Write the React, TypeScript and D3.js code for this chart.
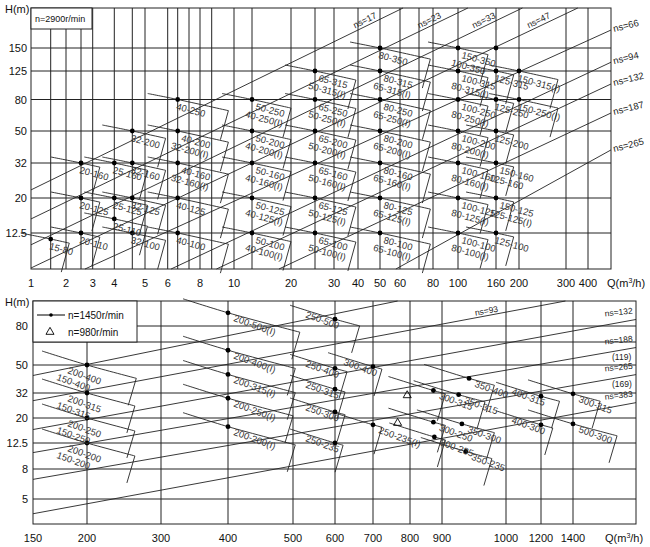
import React from 'react';
import * as d3 from 'd3';

// ================= DATA =================
// Upper chart: n = 2900 r/min
const topQTicks = [1, 2, 3, 4, 5, 6, 8, 10, 20, 30, 40, 50, 60, 80, 100, 160, 200, 300, 400];
const topQGrid = [1.5, 2, 2.5, 3, 4, 4.5, 5, 6, 6.3, 7, 8, 8.5, 10, 12.5, 20, 25, 30, 40, 50, 60, 70, 80, 100, 160, 200, 300, 400];
const topHTicks = [12.5, 20, 32, 50, 80, 125, 150];

type Pump = { labels: string[]; q: number; h: number; qMax: number };

const topPumps: Pump[] = [
  { labels: ['15-80'], q: 1.5, h: 11.6, qMax: 2.1 },
  { labels: ['20-160'], q: 2.5, h: 32, qMax: 3.3 },
  { labels: ['20-125'], q: 2.5, h: 20, qMax: 3.3 },
  { labels: ['20-110'], q: 2.5, h: 12.5, qMax: 3.3 },
  { labels: ['25-160'], q: 4, h: 32, qMax: 5.1 },
  { labels: ['25-125'], q: 4, h: 20, qMax: 5.1 },
  { labels: ['25-110'], q: 4, h: 15.1, qMax: 5.1 },
  { labels: ['32-200'], q: 4.5, h: 50, qMax: 5.9 },
  { labels: ['32-160'], q: 4.5, h: 32, qMax: 5.9 },
  { labels: ['32-125'], q: 4.5, h: 20, qMax: 5.9 },
  { labels: ['32-100'], q: 4.5, h: 12.5, qMax: 5.9 },
  { labels: ['40-250'], q: 6.3, h: 80, qMax: 9.6 },
  { labels: ['40-200', '32-200(I)'], q: 6.3, h: 50, qMax: 9.6 },
  { labels: ['40-160', '32-160(I)'], q: 6.3, h: 32, qMax: 9.6 },
  { labels: ['40-125'], q: 6.3, h: 20, qMax: 9.6 },
  { labels: ['40-100'], q: 6.3, h: 12.5, qMax: 9.6 },
  { labels: ['50-250', '40-250(I)'], q: 12.5, h: 80, qMax: 20 },
  { labels: ['50-200', '40-200(I)'], q: 12.5, h: 50, qMax: 20 },
  { labels: ['50-160', '40-160(I)'], q: 12.5, h: 32, qMax: 20 },
  { labels: ['50-125', '40-125(I)'], q: 12.5, h: 20, qMax: 20 },
  { labels: ['50-100', '40-100(I)'], q: 12.5, h: 12.5, qMax: 20 },
  { labels: ['65-315', '50-315(I)'], q: 25, h: 125, qMax: 39 },
  { labels: ['65-250', '50-250(I)'], q: 25, h: 80, qMax: 39 },
  { labels: ['65-200', '50-200(I)'], q: 25, h: 50, qMax: 39 },
  { labels: ['65-160', '50-160(I)'], q: 25, h: 32, qMax: 39 },
  { labels: ['65-125', '50-125(I)'], q: 25, h: 20, qMax: 39 },
  { labels: ['65-100', '50-100(I)'], q: 25, h: 12.5, qMax: 39 },
  { labels: ['80-350'], q: 50, h: 150, qMax: 78 },
  { labels: ['80-315', '65-315(I)'], q: 50, h: 125, qMax: 78 },
  { labels: ['80-250', '65-250(I)'], q: 50, h: 80, qMax: 78 },
  { labels: ['80-200', '65-200(I)'], q: 50, h: 50, qMax: 78 },
  { labels: ['80-160', '65-160(I)'], q: 50, h: 32, qMax: 78 },
  { labels: ['80-125', '65-125(I)'], q: 50, h: 20, qMax: 78 },
  { labels: ['80-100', '65-100(I)'], q: 50, h: 12.5, qMax: 78 },
  { labels: ['150-350', '100-350'], q: 100, h: 150, qMax: 145 },
  { labels: ['100-315', '80-315(I)'], q: 100, h: 125, qMax: 145 },
  { labels: ['100-250', '80-250(I)'], q: 100, h: 80, qMax: 145 },
  { labels: ['100-200', '80-200(I)'], q: 100, h: 50, qMax: 145 },
  { labels: ['100-160', '80-160(I)'], q: 100, h: 32, qMax: 145 },
  { labels: ['100-125', '80-125(I)'], q: 100, h: 20, qMax: 145 },
  { labels: ['100-100', '80-100(I)'], q: 100, h: 12.5, qMax: 145 },
  { labels: ['125-315'], q: 160, h: 125, qMax: 190 },
  { labels: ['125-250'], q: 160, h: 80, qMax: 190 },
  { labels: ['125-200'], q: 160, h: 50, qMax: 190 },
  { labels: ['150-160', '125-160'], q: 160, h: 32, qMax: 190 },
  { labels: ['150-125', '125-125(I)'], q: 160, h: 20, qMax: 190 },
  { labels: ['125-100'], q: 160, h: 12.5, qMax: 190 },
  { labels: ['150-315(I)'], q: 200, h: 125, qMax: 280 },
  { labels: ['150-250(I)'], q: 200, h: 80, qMax: 280 },
];
const topExtraDots: [number, number][] = [[160, 150]];

type NsLine = { label: string; sub?: string; from: [number, number]; to: [number, number] };
const topNsLines: NsLine[] = [
  { label: 'ns=17', from: [1, 22.3], to: [61.5, 200] },
  { label: 'ns=23', from: [1, 15.1], to: [113, 200] },
  { label: 'ns=33', from: [1, 10.8], to: [206, 200] },
  { label: 'ns=47', from: [1, 8.1], to: [350, 200] },
  { label: 'ns=66', from: [2.66, 8], to: [500, 170.7] },
  { label: 'ns=94', from: [6.1, 8], to: [500, 134] },
  { label: 'ns=132', from: [8.8, 8], to: [500, 102] },
  { label: 'ns=187', from: [17.3, 8], to: [500, 65.4] },
  { label: 'ns=265', from: [57.8, 8], to: [500, 38.4] },
];

// Lower chart: n = 1450 r/min (dots), n = 980 r/min (triangles)
const botQTicks = [150, 200, 300, 400, 500, 600, 700, 800, 900, 1000, 1200, 1400];
const botQGrid = [200, 300, 400, 500, 600, 700, 800, 900, 1000, 1200, 1400];
const botHTicks = [5, 8, 12.5, 20, 32, 50, 80];
const botHGrid = [5, 8, 12.5, 20, 32, 50, 63, 80];

const botPumps: Pump[] = [
  { labels: ['200-400', '150-400'], q: 200, h: 50, qMax: 262 },
  { labels: ['200-315', '150-315'], q: 200, h: 32, qMax: 260 },
  { labels: ['200-250', '150-250'], q: 200, h: 20, qMax: 260 },
  { labels: ['200-200', '150-200'], q: 200, h: 12.5, qMax: 260 },
  { labels: ['200-500(I)'], q: 400, h: 90, qMax: 515 },
  { labels: ['200-400(I)'], q: 400, h: 58, qMax: 505 },
  { labels: ['200-315(I)'], q: 400, h: 43, qMax: 505 },
  { labels: ['200-250(I)'], q: 400, h: 29, qMax: 500 },
  { labels: ['200-200(I)'], q: 400, h: 17, qMax: 505 },
  { labels: ['250-500'], q: 600, h: 85, qMax: 663 },
  { labels: ['250-400'], q: 600, h: 47.4, qMax: 630 },
  { labels: ['250-315'], q: 600, h: 34, qMax: 625 },
  { labels: ['250-300'], q: 600, h: 22.4, qMax: 625 },
  { labels: ['250-235'], q: 600, h: 12.5, qMax: 620 },
  { labels: ['300-400'], q: 700, h: 48.7, qMax: 723 },
  { labels: ['250-235(I)'], q: 700, h: 17.6, qMax: 723 },
  { labels: ['300-315'], q: 872, h: 33.3, qMax: 905 },
  { labels: ['300-250'], q: 872, h: 18.5, qMax: 905 },
  { labels: ['300-235'], q: 875, h: 14, qMax: 905 },
  { labels: ['350-400'], q: 941, h: 40.4, qMax: 981 },
  { labels: ['350-315'], q: 925, h: 31, qMax: 966 },
  { labels: ['350-300'], q: 930, h: 17.9, qMax: 981 },
  { labels: ['350-235'], q: 936, h: 10.8, qMax: 977 },
  { labels: ['400-315'], q: 1200, h: 30.1, qMax: 1312 },
  { labels: ['300-315'], q: 1400, h: 31.5, qMax: 1560 },
  { labels: ['400-300'], q: 1200, h: 17.6, qMax: 1270 },
  { labels: ['500-300'], q: 1400, h: 17.9, qMax: 1669 },
];
const botTriangles: [number, number][] = [[792, 30.6], [765, 18.2]];

const botNsLines: NsLine[] = [
  { label: '', from: [150, 42.3], to: [765, 100] },
  { label: 'ns=93', from: [150, 27.7], to: [1350, 100] },
  { label: 'ns=132', from: [150, 16.1], to: [1800, 84.8] },
  { label: 'ns=188', sub: '(119)', from: [150, 10.6], to: [1800, 59.6] },
  { label: 'ns=265', sub: '(169)', from: [150, 6.8], to: [1800, 42.9] },
  { label: 'ns=383', from: [150, 3.7], to: [1800, 26.7] },
];

// ================= LAYOUT =================
const FONT = '"Liberation Sans", Arial, Helvetica, sans-serif';
const INK = '#222';
const TOP = {
  qKnots: [1, 1.5, 2, 2.5, 3, 4, 4.5, 5, 6, 6.3, 7, 8, 8.5, 10, 12.5, 20, 25, 30, 40, 50, 60, 70, 80, 100, 160, 200, 300, 400, 500],
  xPx: [31, 50.7, 66, 81, 92.7, 114.3, 132.3, 145, 167.7, 177.7, 189, 200, 211.7, 234, 252, 291, 315, 334, 358, 380, 400, 419, 433, 458, 496, 519, 566, 588, 611],
  hKnots: [8, 12.5, 20, 32, 50, 80, 125, 150, 200],
  yPx: [269, 233, 198, 163, 131, 99.5, 71, 48, 8],
};
const BOT = {
  qKnots: [150, 200, 300, 400, 500, 600, 700, 800, 900, 1000, 1200, 1400, 1800],
  xPx: [33, 87, 161, 228, 293, 335, 373, 410, 442, 506, 541, 573, 636],
  hKnots: [3, 5, 8, 12.5, 20, 32, 50, 63, 80, 100],
  yPx: [524, 499, 469, 443, 418, 393, 365, 342, 326, 301],
};
const BOT_LEFT_LABELS = new Set(['250-400', '250-315', '250-300', '250-235', '300-400', '400-300', '250-500', '400-315']);

type Sc = d3.ScaleLogarithmic<number, number>;

function makeScales(c: typeof TOP) {
  const x = d3.scaleLog().domain(c.qKnots).range(c.xPx);
  const y = d3.scaleLog().domain(c.hKnots).range(c.yPx);
  return { x, y };
}

const lineGen = d3.line<[number, number]>();
const curveGen = d3.line<[number, number]>().curve(d3.curveCatmullRom.alpha(0.5));

function tileGeom(p: Pump, x: Sc, y: Sc, big: boolean) {
  const x0 = x(p.q), y0 = y(p.h), xr = x(p.qMax);
  const slope = big ? 0.27 : 0.22;
  const tl: [number, number] = big ? [x0 - 45, y0 - 14] : [x0 - 30, y0 - 6];
  const tr: [number, number] = [xr, y0 + slope * (xr - x0)];
  const mid: [number, number] = [x0, y0];
  const br: [number, number] = [xr - 8, tr[1] + (big ? 27 : 29)];
  return { x0, y0, tl, mid, tr, br };
}

function Tiles({ pumps, x, y, big }: { pumps: Pump[]; x: Sc; y: Sc; big: boolean }) {
  return (
    <g fill="none" stroke={INK} strokeWidth={0.9}>
      {pumps.map((p, i) => {
        const g = tileGeom(p, x, y, big);
        return (
          <g key={i}>
            <path d={curveGen([g.tl, g.mid, g.tr]) || ''} />
            <path d={lineGen([g.tr, g.br]) || ''} />
          </g>
        );
      })}
    </g>
  );
}

function Labels({ pumps, x, y, big }: { pumps: Pump[]; x: Sc; y: Sc; big: boolean }) {
  return (
    <g fontFamily={FONT} fill="#333" fontSize={9.5}>
      {pumps.map((p, i) => {
        const x0 = x(p.q), y0 = y(p.h);
        const left = big && BOT_LEFT_LABELS.has(p.labels[0]);
        const ang = big ? 20 : 15;
        const two = p.labels.length > 1;
        const tx = big ? (left ? x0 - 30 : (p.q < 300 ? x0 - 20 : x0 + 5)) : (two ? x0 + 3 : x0 - 2);
        const ty = big ? (left ? y0 - 2 : y0 + 8) : y0 + 10;
        return (
          <g key={i} transform={`translate(${tx},${ty}) rotate(${ang})`}>
            <text x={0} y={0}>{p.labels[0]}</text>
            {two && <text x={-8} y={10}>{p.labels[1]}</text>}
          </g>
        );
      })}
    </g>
  );
}

function NsLines({ lines, x, y }: { lines: NsLine[]; x: Sc; y: Sc }) {
  return (
    <g>
      {lines.map((l, i) => {
        const a: [number, number] = [x(l.from[0]), y(l.from[1])];
        const b: [number, number] = [x(l.to[0]), y(l.to[1])];
        return <path key={i} d={lineGen([a, b]) || ''} stroke={INK} strokeWidth={0.9} fill="none" />;
      })}
    </g>
  );
}

export default function App() {
  const t = makeScales(TOP);
  const b = makeScales(BOT);
  const tx0 = TOP.xPx[0], tx1 = TOP.xPx[TOP.xPx.length - 1], ty0 = TOP.yPx[TOP.yPx.length - 1], ty1 = TOP.yPx[0];
  const bx0 = BOT.xPx[0], bx1 = BOT.xPx[BOT.xPx.length - 1], by0 = BOT.yPx[BOT.yPx.length - 1], by1 = BOT.yPx[0];
  const tri = d3.symbol().type(d3.symbolTriangle).size(28)() || '';

  const geo = (l: NsLine, s: { x: Sc; y: Sc }) => {
    const a = [s.x(l.from[0]), s.y(l.from[1])];
    const c = [s.x(l.to[0]), s.y(l.to[1])];
    const ang = (Math.atan2(c[1] - a[1], c[0] - a[0]) * 180) / Math.PI;
    return { l, a, c, ang };
  };
  const nsTopLabels = topNsLines.map((l) => geo(l, t));
  const nsBotLabels = botNsLines.map((l) => geo(l, b));

  return (
    <svg width={650} height={547} viewBox="0 0 650 547" style={{ position: 'absolute', left: 0, top: 0, background: '#fff' }}>
      <rect x={0} y={0} width={650} height={547} fill="#fff" />
      {/* ---------- TOP PANEL ---------- */}
      <g stroke={INK} strokeWidth={1}>
        {topQGrid.map((q) => <line key={'tv' + q} x1={t.x(q)} x2={t.x(q)} y1={ty0} y2={ty1} />)}
        {topHTicks.map((h) => <line key={'th' + h} x1={tx0} x2={tx1} y1={t.y(h)} y2={t.y(h)} />)}
      </g>
      <Tiles pumps={topPumps} x={t.x} y={t.y} big={false} />
      <NsLines lines={topNsLines} x={t.x} y={t.y} />
      <g fill="#000">
        {topPumps.map((p, i) => <circle key={i} cx={t.x(p.q)} cy={t.y(p.h)} r={2.4} />)}
        {topExtraDots.map((d, i) => <circle key={'e' + i} cx={t.x(d[0])} cy={t.y(d[1])} r={2.4} />)}
      </g>
      <Labels pumps={topPumps} x={t.x} y={t.y} big={false} />
      <rect x={tx0} y={ty0} width={tx1 - tx0} height={ty1 - ty0} fill="none" stroke={INK} strokeWidth={1} />
      <rect x={tx0} y={ty0} width={61} height={21} fill="#fff" stroke={INK} strokeWidth={1} />
      <text x={tx0 + 4} y={ty0 + 14} fontFamily={FONT} fontSize={9} fill="#111">n=2900r/min</text>
      <g fontFamily={FONT} fontSize={9} fill="#222">
        {nsTopLabels.map(({ l, a, c, ang }, i) => {
          if (c[0] < tx1 - 1) {
            const yy = ty0 + 19;
            const k = (yy - a[1]) / (c[1] - a[1]);
            const xx = a[0] + k * (c[0] - a[0]);
            return <text key={i} textAnchor="middle" transform={`translate(${xx + 2},${yy - 4}) rotate(${ang})`}>{l.label}</text>;
          }
          return <text key={i} transform={`translate(${tx1 + 3},${c[1] + 2}) rotate(-14)`} fontSize={9.5}>{l.label}</text>;
        })}
      </g>
      <g fontFamily={FONT} fontSize={11} fill="#111">
        <text x={5} y={13}>H(m)</text>
        {topHTicks.map((h) => <text key={h} x={27} y={t.y(h) + 4} textAnchor="end">{h}</text>)}
        {topQTicks.map((q) => <text key={q} x={t.x(q)} y={287} textAnchor="middle">{q}</text>)}
        <text x={607} y={287}>Q(m<tspan fontSize={7} dy={-4}>3</tspan><tspan dy={4}>/h)</tspan></text>
      </g>

      {/* ---------- BOTTOM PANEL ---------- */}
      <g stroke={INK} strokeWidth={1}>
        {botQGrid.map((q) => <line key={'bv' + q} x1={b.x(q)} x2={b.x(q)} y1={by0} y2={by1} />)}
        {botHGrid.map((h) => <line key={'bh' + h} x1={bx0} x2={bx1} y1={b.y(h)} y2={b.y(h)} />)}
      </g>
      <Tiles pumps={botPumps} x={b.x} y={b.y} big={true} />
      <NsLines lines={botNsLines} x={b.x} y={b.y} />
      <g fill="#000">
        {botPumps.map((p, i) => <circle key={i} cx={b.x(p.q)} cy={b.y(p.h)} r={2.4} />)}
      </g>
      <g fill="none" stroke="#000" strokeWidth={0.9}>
        {botTriangles.map((d, i) => <path key={i} d={tri} transform={`translate(${b.x(d[0])},${b.y(d[1])})`} />)}
      </g>
      <Labels pumps={botPumps} x={b.x} y={b.y} big={true} />
      <rect x={bx0} y={by0} width={bx1 - bx0} height={by1 - by0} fill="none" stroke={INK} strokeWidth={1} />
      <rect x={bx0} y={by0} width={104} height={41} fill="#fff" stroke={INK} strokeWidth={1} />
      <line x1={bx0 + 4} x2={bx0 + 32} y1={by0 + 14} y2={by0 + 14} stroke="#000" strokeWidth={1} />
      <circle cx={bx0 + 18} cy={by0 + 14} r={1.8} fill="#000" />
      <path d={tri} transform={`translate(${bx0 + 17},${by0 + 31})`} fill="none" stroke="#000" strokeWidth={0.9} />
      <g fontFamily={FONT} fontSize={10} fill="#111">
        <text x={bx0 + 35} y={by0 + 18}>n=1450r/min</text>
        <text x={bx0 + 35} y={by0 + 35}>n=980r/min</text>
      </g>
      <g fontFamily={FONT} fontSize={8.5} fill="#222">
        {nsBotLabels.map(({ l, a, c, ang }, i) => {
          if (!l.label) return null;
          if (c[0] < bx1 - 1) {
            const xx = c[0] - 90;
            const k = (xx - a[0]) / (c[0] - a[0]);
            const yy = a[1] + k * (c[1] - a[1]);
            return <text key={i} transform={`translate(${xx},${yy - 2}) rotate(${ang})`}>{l.label}</text>;
          }
          return (
            <g key={i}>
              <text transform={`translate(${bx1 - 31},${c[1] - 3}) rotate(-6)`}>{l.label}</text>
              {l.sub && <text x={bx1 - 24} y={c[1] + 12}>{l.sub}</text>}
            </g>
          );
        })}
      </g>
      <g fontFamily={FONT} fontSize={11} fill="#111">
        <text x={5} y={306}>H(m)</text>
        {botHTicks.map((h) => <text key={h} x={28} y={b.y(h) + 4} textAnchor="end">{h}</text>)}
        {botQTicks.map((q) => <text key={q} x={b.x(q)} y={542} textAnchor="middle">{q}</text>)}
        <text x={605} y={542}>Q(m<tspan fontSize={7} dy={-4}>3</tspan><tspan dy={4}>/h)</tspan></text>
      </g>
    </svg>
  );
}
